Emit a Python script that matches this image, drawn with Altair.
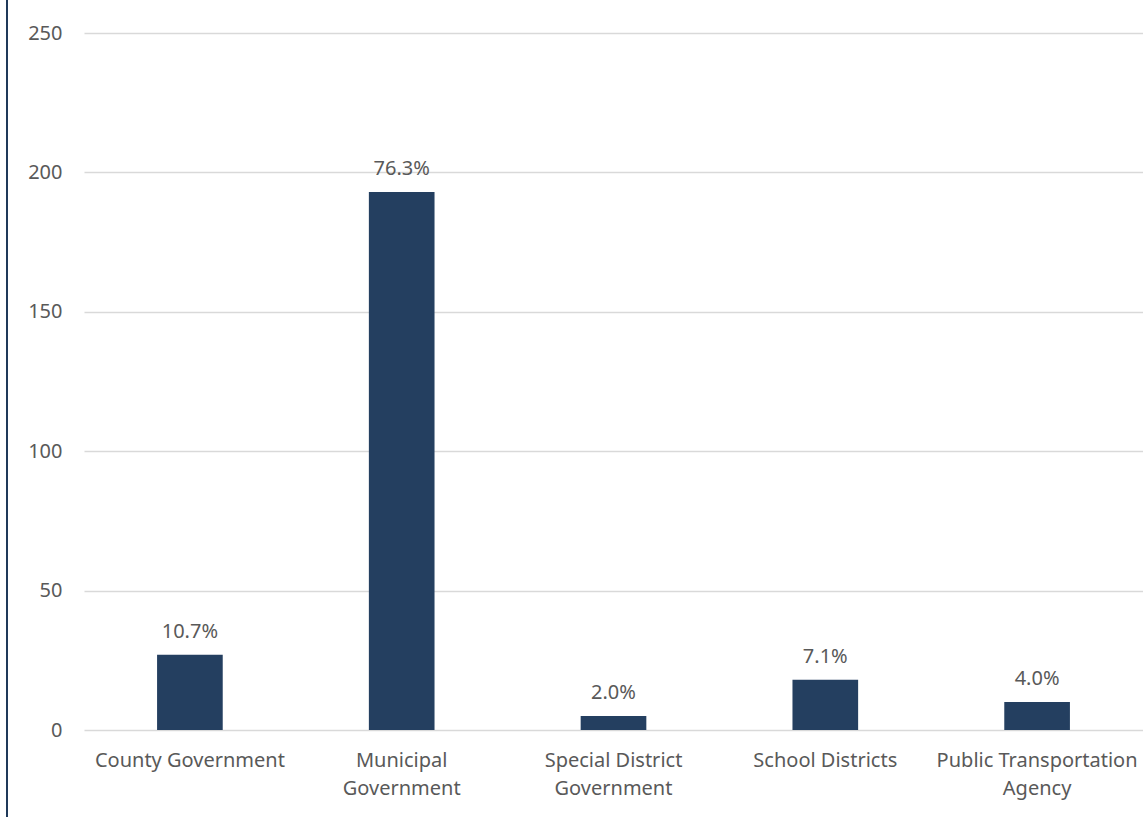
import altair as alt
import pandas as pd

categories = ["County Government", "Municipal Government", "Special District Government",
              "School Districts", "Public Transportation Agency"]
axis_labels = ["County Government", "Municipal\nGovernment", "Special District\nGovernment",
               "School Districts", "Public Transportation\nAgency"]
counts = [27, 193, 5, 18, 10]
pct_labels = ["10.7%", "76.3%", "2.0%", "7.1%", "4.0%"]

df = pd.DataFrame({"cat": axis_labels, "count": counts, "pct": pct_labels})

FONT = "Noto Sans"
TXT = "#595959"
BAR = "#243F60"

x = alt.X("cat:N", sort=axis_labels, title=None,
          scale=alt.Scale(paddingInner=0.69, paddingOuter=0.345),
          axis=alt.Axis(labelExpr="split(datum.label, '\\n')", labelAngle=0,
                        labelFont=FONT, labelFontSize=20, labelColor=TXT,
                        labelPadding=20, labelLineHeight=28, labelBaseline="top",
                        ticks=False, domain=False, grid=False, labelLimit=400))
y = alt.Y("count:Q", title=None,
          scale=alt.Scale(domain=[0, 250], nice=False),
          axis=alt.Axis(values=[0, 50, 100, 150, 200, 250], labelFont=FONT, labelFontSize=20,
                        labelColor=TXT, labelPadding=22, ticks=False, domain=False,
                        grid=True, gridColor="#D9D9D9", gridWidth=1.3))

bars = alt.Chart(df).mark_bar(color=BAR).encode(x=x, y=y)
text = alt.Chart(df).mark_text(font=FONT, fontSize=20, color=TXT, baseline="alphabetic",
                               dy=-17).encode(x=x, y=y, text="pct:N")
edge = alt.Chart(df).mark_rule(color="#1F3A5A", strokeWidth=1.3).encode(
    x=alt.value(-77), y=alt.value(-33), y2=alt.value(784))

chart = alt.layer(bars, text, edge).properties(
    width=1059, height=697,
    autosize=alt.AutoSizeParams(type="none"),
    padding={"left": 84, "top": 33, "right": 0, "bottom": 87},
).configure(background="white").configure_view(stroke=None)

chart.save("out.html", embed_options={"renderer": "svg", "actions": False})
